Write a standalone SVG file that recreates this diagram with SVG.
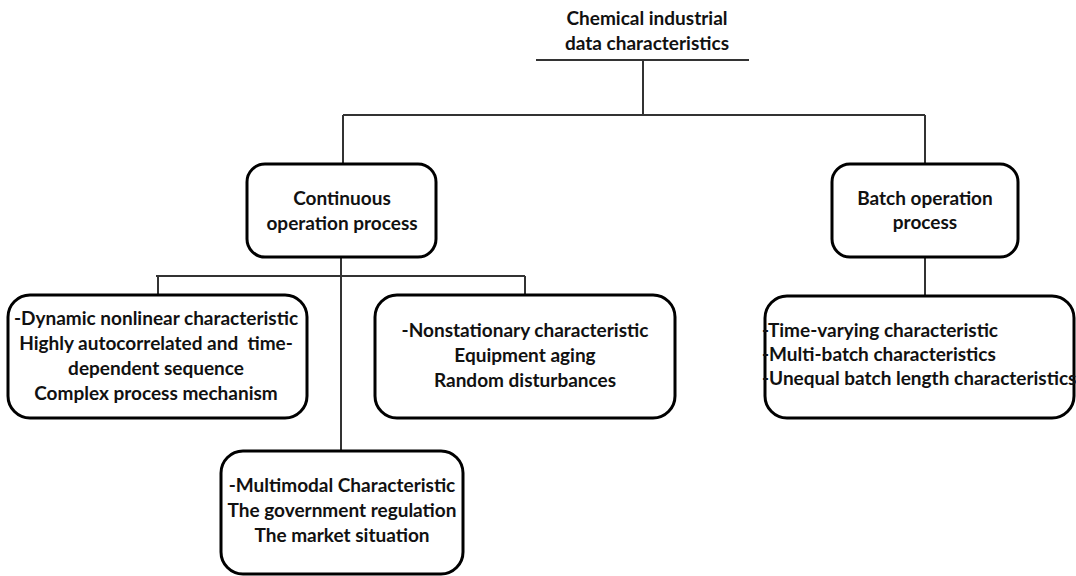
<svg xmlns="http://www.w3.org/2000/svg" width="1076" height="576" viewBox="0 0 1076 576">
<style>
.box{fill:#fff;stroke:#000;stroke-width:3}
.ln{fill:none;stroke:#333;stroke-width:2}
text{font-family:Lato,"Liberation Sans",sans-serif;font-weight:bold;font-size:19px;fill:#111;text-anchor:middle}
.l{text-anchor:start}
</style>
<rect width="1076" height="576" fill="#fff"/>
<g id="connectors">
<path class="ln" d="M536 60H749M643 60V115M343 115H925M343 115V163M925 115V164M341 257V450M156 276H525M158 276V295M525 276V295M925 257V296"/>
</g>
<g id="title">
<text x="647" y="25">Chemical industrial</text>
<text x="647" y="50">data characteristics</text>
</g>
<g id="continuous">
<rect class="box" x="247" y="164" width="189" height="93" rx="18"/>
<text x="342" y="205">Continuous</text>
<text x="342" y="230">operation process</text>
</g>
<g id="batch">
<rect class="box" x="832" y="164" width="186" height="93" rx="18"/>
<text x="925" y="205">Batch operation</text>
<text x="925" y="229">process</text>
</g>
<g id="dynamic">
<rect class="box" x="8" y="295" width="299" height="123" rx="22"/>
<text x="156" y="325">-Dynamic nonlinear characteristic</text>
<text x="156" y="350" xml:space="preserve">Highly autocorrelated and  time-</text>
<text x="156" y="375">dependent sequence</text>
<text x="156" y="400">Complex process mechanism</text>
</g>
<g id="nonstationary">
<rect class="box" x="375" y="295" width="300" height="123" rx="22"/>
<text x="525" y="337">-Nonstationary characteristic</text>
<text x="525" y="362">Equipment aging</text>
<text x="525" y="387">Random disturbances</text>
</g>
<g id="multimodal">
<rect class="box" x="221" y="451" width="242" height="123" rx="22"/>
<text x="342" y="492">-Multimodal Characteristic</text>
<text x="342" y="517">The government regulation</text>
<text x="342" y="542">The market situation</text>
</g>
<g id="batchchars">
<rect class="box" x="765" y="296" width="309" height="122" rx="22"/>
<text class="l" x="762" y="337">-Time-varying characteristic</text>
<text class="l" x="762" y="361">-Multi-batch characteristics</text>
<text class="l" x="762" y="385">-Unequal batch length characteristics</text>
</g>
</svg>
